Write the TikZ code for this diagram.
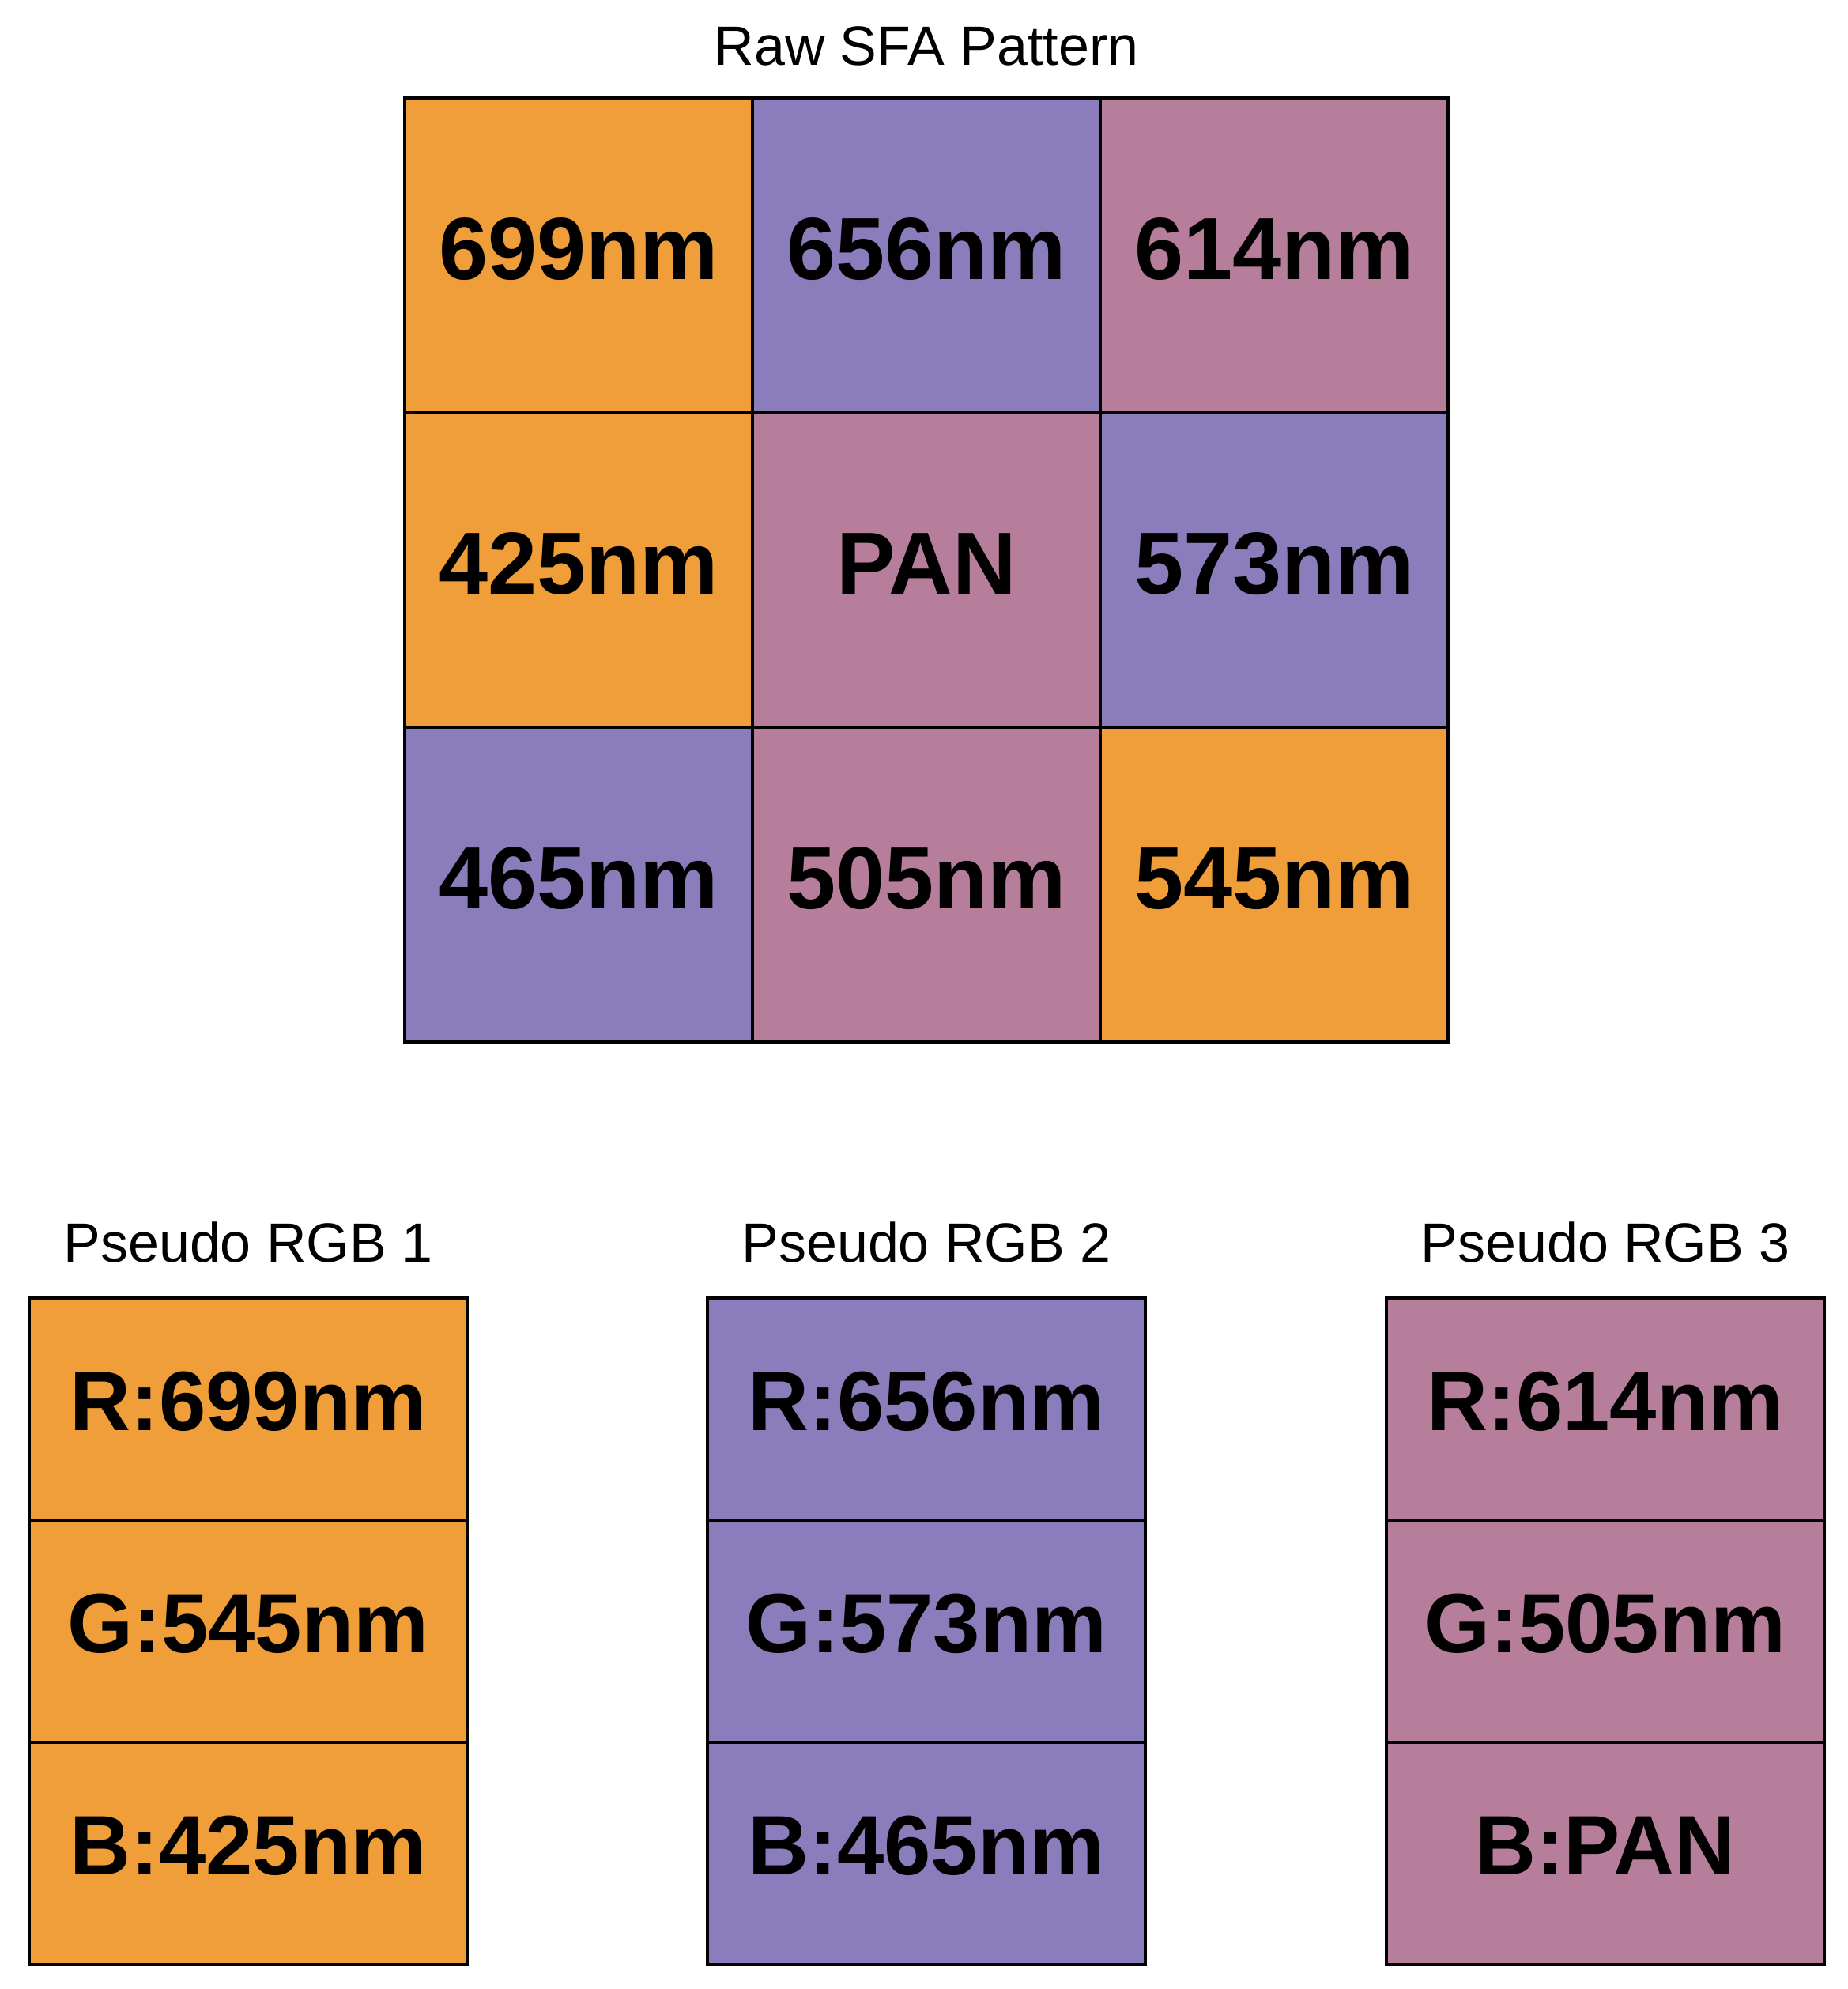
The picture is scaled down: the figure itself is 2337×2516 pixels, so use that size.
\documentclass[tikz,border=0pt]{standalone}
\usepackage{fontspec}
\setmainfont{Liberation Sans}
\definecolor{corange}{RGB}{240,158,57}
\definecolor{cpurple}{RGB}{139,125,187}
\definecolor{cpink}{RGB}{183,126,156}
\begin{document}
\begin{tikzpicture}[x=0.3pt,y=-0.3pt,
  cell/.style={draw=black,line width=1pt,rectangle,inner sep=0pt,outer sep=0pt,
    minimum width=132pt,minimum height=119.4pt,text depth=5pt,font=\fontsize{33.5}{36}\selectfont\bfseries},
  rgbcell/.style={draw=black,line width=1pt,rectangle,inner sep=0pt,outer sep=0pt,
    minimum width=166.2pt,minimum height=84.3pt,text depth=6pt,font=\fontsize{32}{34}\selectfont\bfseries},
  ttl/.style={inner sep=0pt,font=\fontsize{21}{24}\selectfont,anchor=base}]
\useasboundingbox (0,0) rectangle (2337,2516);
% grid
\node[ttl] (title) at (1172,82) {Raw SFA Pattern};
\node[cell,fill=corange] (c11) at (732,323) {699nm};
\node[cell,fill=cpurple] (c12) at (1172,323) {656nm};
\node[cell,fill=cpink]   (c13) at (1612,323) {614nm};
\node[cell,fill=corange] (c21) at (732,721) {425nm};
\node[cell,fill=cpink]   (c22) at (1172,721) {PAN};
\node[cell,fill=cpurple] (c23) at (1612,721) {573nm};
\node[cell,fill=cpurple] (c31) at (732,1119) {465nm};
\node[cell,fill=cpink]   (c32) at (1172,1119) {505nm};
\node[cell,fill=corange] (c33) at (1612,1119) {545nm};
% pseudo RGB 1
\node[ttl] (t1) at (314,1596) {Pseudo RGB 1};
\node[rgbcell,fill=corange] (r1) at (314,1782.5) {R:699nm};
\node[rgbcell,fill=corange] (g1) at (314,2063.5) {G:545nm};
\node[rgbcell,fill=corange] (b1) at (314,2344.5) {B:425nm};
% pseudo RGB 2
\node[ttl] (t2) at (1172,1596) {Pseudo RGB 2};
\node[rgbcell,fill=cpurple] (r2) at (1172,1782.5) {R:656nm};
\node[rgbcell,fill=cpurple] (g2) at (1172,2063.5) {G:573nm};
\node[rgbcell,fill=cpurple] (b2) at (1172,2344.5) {B:465nm};
% pseudo RGB 3
\node[ttl] (t3) at (2031,1596) {Pseudo RGB 3};
\node[rgbcell,fill=cpink] (r3) at (2031,1782.5) {R:614nm};
\node[rgbcell,fill=cpink] (g3) at (2031,2063.5) {G:505nm};
\node[rgbcell,fill=cpink] (b3) at (2031,2344.5) {B:PAN};
\end{tikzpicture}
\end{document}
